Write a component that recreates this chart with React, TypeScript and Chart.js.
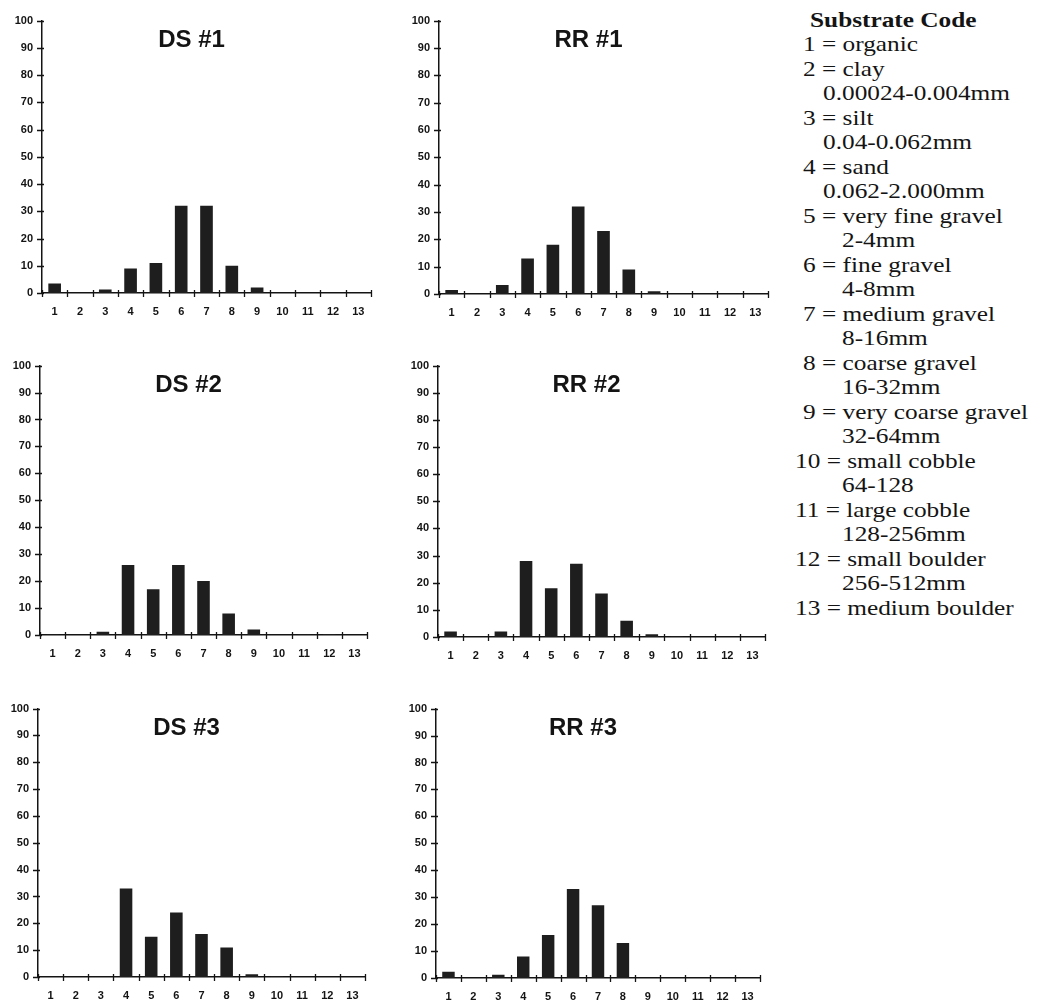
import React, { useEffect, useRef } from 'react';
import { Chart, registerables } from 'chart.js';

Chart.register(...registerables);

// ---------- data ----------
const CATEGORIES = ['1', '2', '3', '4', '5', '6', '7', '8', '9', '10', '11', '12', '13'];
const Y_TICK_STEP = 10;
const Y_MAX = 100;

const DS1_VALUES = [3.5, 0, 1.3, 9, 11, 32, 32, 10, 2, 0, 0, 0, 0];
const RR1_VALUES = [1.5, 0, 3.3, 13, 18, 32, 23, 9, 1, 0, 0, 0, 0];
const DS2_VALUES = [0.2, 0, 1.2, 26, 17, 26, 20, 8, 2, 0, 0.2, 0.3, 0];
const RR2_VALUES = [2, 0, 2, 28, 18, 27, 16, 6, 1, 0.2, 0, 0, 0];
const DS3_VALUES = [0, 0, 0, 33, 15, 24, 16, 11, 1, 0.2, 0, 0, 0];
const RR3_VALUES = [2.3, 0, 1.2, 8, 16, 33, 27, 13, 0, 0, 0, 0, 0];

const PANEL_TITLES = ['DS #1', 'RR #1', 'DS #2', 'RR #2', 'DS #3', 'RR #3'];
const PANEL_VALUES = [DS1_VALUES, RR1_VALUES, DS2_VALUES, RR2_VALUES, DS3_VALUES, RR3_VALUES];

const LEGEND_TITLE = 'Substrate Code';
const SUBSTRATE_CODES = [1, 2, 3, 4, 5, 6, 7, 8, 9, 10, 11, 12, 13];
const SUBSTRATE_NAMES = [
  'organic', 'clay', 'silt', 'sand', 'very fine gravel', 'fine gravel', 'medium gravel',
  'coarse gravel', 'very coarse gravel', 'small cobble', 'large cobble', 'small boulder', 'medium boulder',
];
const SUBSTRATE_SIZES = [
  '', '0.00024-0.004mm', '0.04-0.062mm', '0.062-2.000mm', '2-4mm', '4-8mm', '8-16mm',
  '16-32mm', '32-64mm', '64-128', '128-256mm', '256-512mm', '',
];

// ---------- layout (plot area boxes: left, top, right, bottom) ----------
const PLOT_BOXES = [
  [42, 15, 371, 293],
  [439, 15, 768, 294],
  [40, 360, 367, 635],
  [438, 360, 765, 637],
  [38, 703, 365, 977],
  [436, 703, 760, 978],
];
const Y_AXIS_W = 40;
const X_AXIS_H = 30;
const PAD_TOP = 10;
const PAD_RIGHT = 10;

const SANS = '"Liberation Sans", Arial, sans-serif';
const SERIF = '"Liberation Serif", "Times New Roman", serif';
const INK = '#141414';

function makeOverlay(title: string) {
  return {
    id: 'panelOverlay',
    afterDraw(chart: any) {
      const { ctx, chartArea, scales } = chart;
      const xs = scales.x;
      const ys = scales.y;
      ctx.save();
      ctx.strokeStyle = INK;
      ctx.lineWidth = 1.3;
      ctx.beginPath();
      for (let i = 0; i <= CATEGORIES.length; i++) {
        const px = Math.round(xs.getPixelForValue(i - 0.5)) + 0.5;
        ctx.moveTo(px, chartArea.bottom - 3);
        ctx.lineTo(px, chartArea.bottom + 4);
      }
      ys.ticks.forEach((t: any) => {
        const py = Math.round(ys.getPixelForValue(t.value)) + 0.5;
        ctx.moveTo(chartArea.left - 5, py);
        ctx.lineTo(chartArea.left + 2, py);
      });
      ctx.stroke();
      ctx.fillStyle = INK;
      ctx.font = `bold 24px ${SANS}`;
      ctx.textAlign = 'center';
      ctx.textBaseline = 'middle';
      ctx.fillText(title, (chartArea.left + chartArea.right) / 2 - 15, chartArea.top + 20);
      ctx.restore();
    },
  };
}

function Panel({ title, values, box }: { title: string; values: number[]; box: number[] }) {
  const ref = useRef<HTMLCanvasElement | null>(null);
  const [L, T, R, B] = box;
  const w = R - L + Y_AXIS_W + PAD_RIGHT;
  const h = B - T + PAD_TOP + X_AXIS_H;

  useEffect(() => {
    if (!ref.current) return;
    const chart = new Chart(ref.current, {
      type: 'bar',
      data: {
        labels: CATEGORIES,
        datasets: [
          {
            data: values,
            backgroundColor: '#1e1e1e',
            borderWidth: 0,
            barPercentage: 0.5,
            categoryPercentage: 1,
          },
        ],
      },
      options: {
        responsive: false,
        animation: false,
        devicePixelRatio: 1,
        layout: { padding: { top: PAD_TOP, right: PAD_RIGHT, left: 0, bottom: 0 } },
        plugins: { legend: { display: false }, tooltip: { enabled: false }, title: { display: false } },
        scales: {
          x: {
            grid: { display: false, drawTicks: false },
            border: { display: true, color: INK, width: 1.5 },
            ticks: { color: INK, font: { family: SANS, size: 11, weight: 'bold' }, padding: 12, maxRotation: 0, autoSkip: false },
            afterFit: (s: any) => { s.height = X_AXIS_H; },
          },
          y: {
            min: 0,
            max: Y_MAX,
            grid: { display: false, drawTicks: false },
            border: { display: true, color: INK, width: 1.5 },
            ticks: { stepSize: Y_TICK_STEP, color: INK, font: { family: SANS, size: 11, weight: 'bold' }, padding: 9 },
            afterFit: (s: any) => { s.width = Y_AXIS_W; },
          },
        },
      } as any,
      plugins: [makeOverlay(title)],
    });
    return () => chart.destroy();
  }, [title, values]);

  return (
    <canvas
      ref={ref}
      width={w}
      height={h}
      style={{ position: 'absolute', left: L - Y_AXIS_W, top: T - PAD_TOP, width: w, height: h }}
    />
  );
}

function Legend() {
  const lines: { text: string; left: number; bold?: boolean }[] = [];
  lines.push({ text: LEGEND_TITLE, left: 810, bold: true });
  SUBSTRATE_CODES.forEach((code, i) => {
    lines.push({ text: `${code} = ${SUBSTRATE_NAMES[i]}`, left: code >= 10 ? 795 : 803 });
    if (SUBSTRATE_SIZES[i]) lines.push({ text: SUBSTRATE_SIZES[i], left: code <= 4 ? 823 : 842 });
  });
  const LH = 24.5;
  return (
    <>
      {lines.map((ln, i) => (
        <div
          key={i}
          style={{
            position: 'absolute',
            left: ln.left,
            top: 20 + i * LH - LH / 2,
            height: LH,
            lineHeight: `${LH}px`,
            fontFamily: SERIF,
            fontSize: 22,
            fontWeight: ln.bold ? 'bold' : 'normal',
            color: INK,
            whiteSpace: 'nowrap',
            transform: 'scaleX(1.15)',
            transformOrigin: 'left center',
          }}
        >
          {ln.text}
        </div>
      ))}
    </>
  );
}

export default function App() {
  return (
    <div style={{ position: 'absolute', left: 0, top: 0, width: 1044, height: 1007, background: '#fff', overflow: 'hidden' }}>
      {PANEL_TITLES.map((t, i) => (
        <Panel key={t} title={t} values={PANEL_VALUES[i]} box={PLOT_BOXES[i]} />
      ))}
      <Legend />
    </div>
  );
}
